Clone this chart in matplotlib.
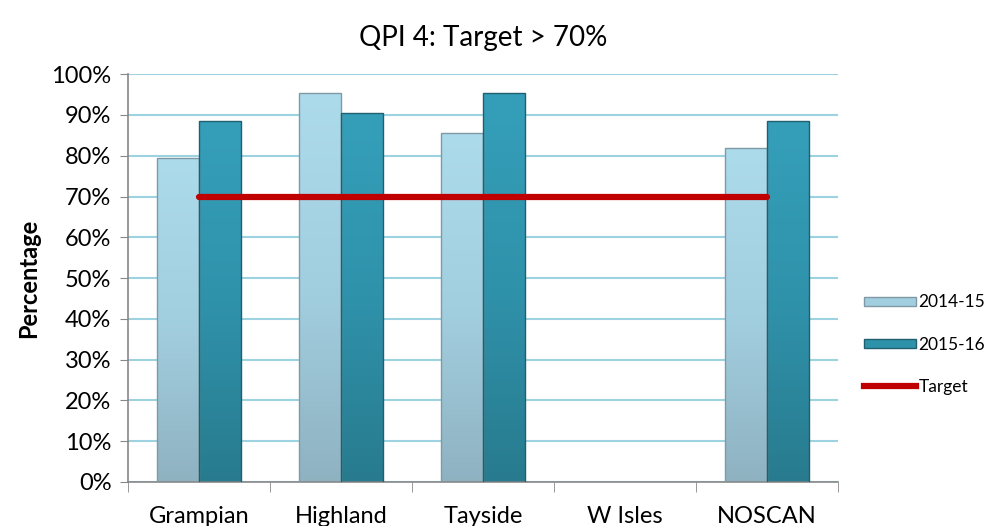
import numpy as np
import matplotlib.pyplot as plt
from matplotlib.patches import Patch
from matplotlib.lines import Line2D
from matplotlib.colors import LinearSegmentedColormap

regions = ['Grampian', 'Highland', 'Tayside', 'W Isles', 'NOSCAN']
pct_2014 = [79.5, 95.5, 85.5, np.nan, 82.0]
pct_2015 = [88.5, 90.5, 95.5, np.nan, 88.5]
target = [70, 70, 70, 70, 70]
yticks = [0, 10, 20, 30, 40, 50, 60, 70, 80, 90, 100]

plt.rcParams['font.family'] = ['Lato', 'DejaVu Sans']

fig = plt.figure(figsize=(9.93, 5.26), dpi=100)
ax = fig.add_axes([0.129, 0.0837, 0.715, 0.7753])

x = np.arange(len(regions))
w = 0.295

light = LinearSegmentedColormap.from_list('light', ['#8fb2c1', '#a2cfe0', '#acdbeb'])
dark = LinearSegmentedColormap.from_list('dark', ['#287b8e', '#2f92ab', '#359fba'])


def gradient_bars(xs, vals, cmap, edge):
    bars = ax.bar(xs, vals, w, color='none', edgecolor=edge, linewidth=1, zorder=3)
    grad = np.linspace(0, 1, 256).reshape(-1, 1)
    for b, v in zip(bars, vals):
        if np.isnan(v):
            continue
        x0 = b.get_x()
        im = ax.imshow(grad, cmap=cmap, origin='lower', aspect='auto',
                       extent=[x0, x0 + w, 0, v], zorder=2)
        im.set_clip_path(b)
    return bars


gradient_bars(x - w / 2, pct_2014, light, '#7f9aa5')
gradient_bars(x + w / 2, pct_2015, dark, '#1f5f6e')

ax.plot(x, target, color='#c00000', linewidth=4.5, solid_capstyle='round', zorder=4)

ax.set_xlim(-0.5, len(regions) - 0.5)
ax.set_ylim(0, 100)
ax.set_yticks(yticks)
ax.set_yticklabels([f'{t}%' for t in yticks], fontsize=17)
ax.yaxis.grid(True, color='#9dd3e0', linewidth=1.5, zorder=0)
ax.set_axisbelow(True)

ax.set_xticks(x)
ax.set_xticklabels(regions, fontsize=17)
ax.set_xticks(np.arange(-0.5, len(regions)), minor=True)
ax.tick_params(axis='x', which='major', length=0, pad=17)
ax.tick_params(axis='x', which='minor', length=7, color='#888888', direction='out')
ax.tick_params(axis='y', length=6, color='#888888', direction='out', pad=6)

for s in ['top', 'right']:
    ax.spines[s].set_visible(False)
for s in ['left', 'bottom']:
    ax.spines[s].set_color('#888888')
    ax.spines[s].set_linewidth(1.2)

ax.set_ylabel('Percentage', fontsize=17, fontweight='bold', labelpad=8)
ax.set_title('QPI 4: Target > 70%', fontsize=20, pad=20)

handles = [
    Patch(facecolor='#a2cfe0', edgecolor='#7f9aa5', label='2014-15'),
    Patch(facecolor='#2f92ab', edgecolor='#1f5f6e', label='2015-16'),
    Line2D([], [], color='#c00000', linewidth=4.5, label='Target'),
]
fig.legend(handles=handles, loc='center left', bbox_to_anchor=(0.863, 0.345),
           frameon=False, fontsize=12.5, handlelength=3.0, handleheight=0.45,
           handletextpad=0.15, labelspacing=1.5, borderaxespad=0)

fig.savefig('out.png', dpi=100)
